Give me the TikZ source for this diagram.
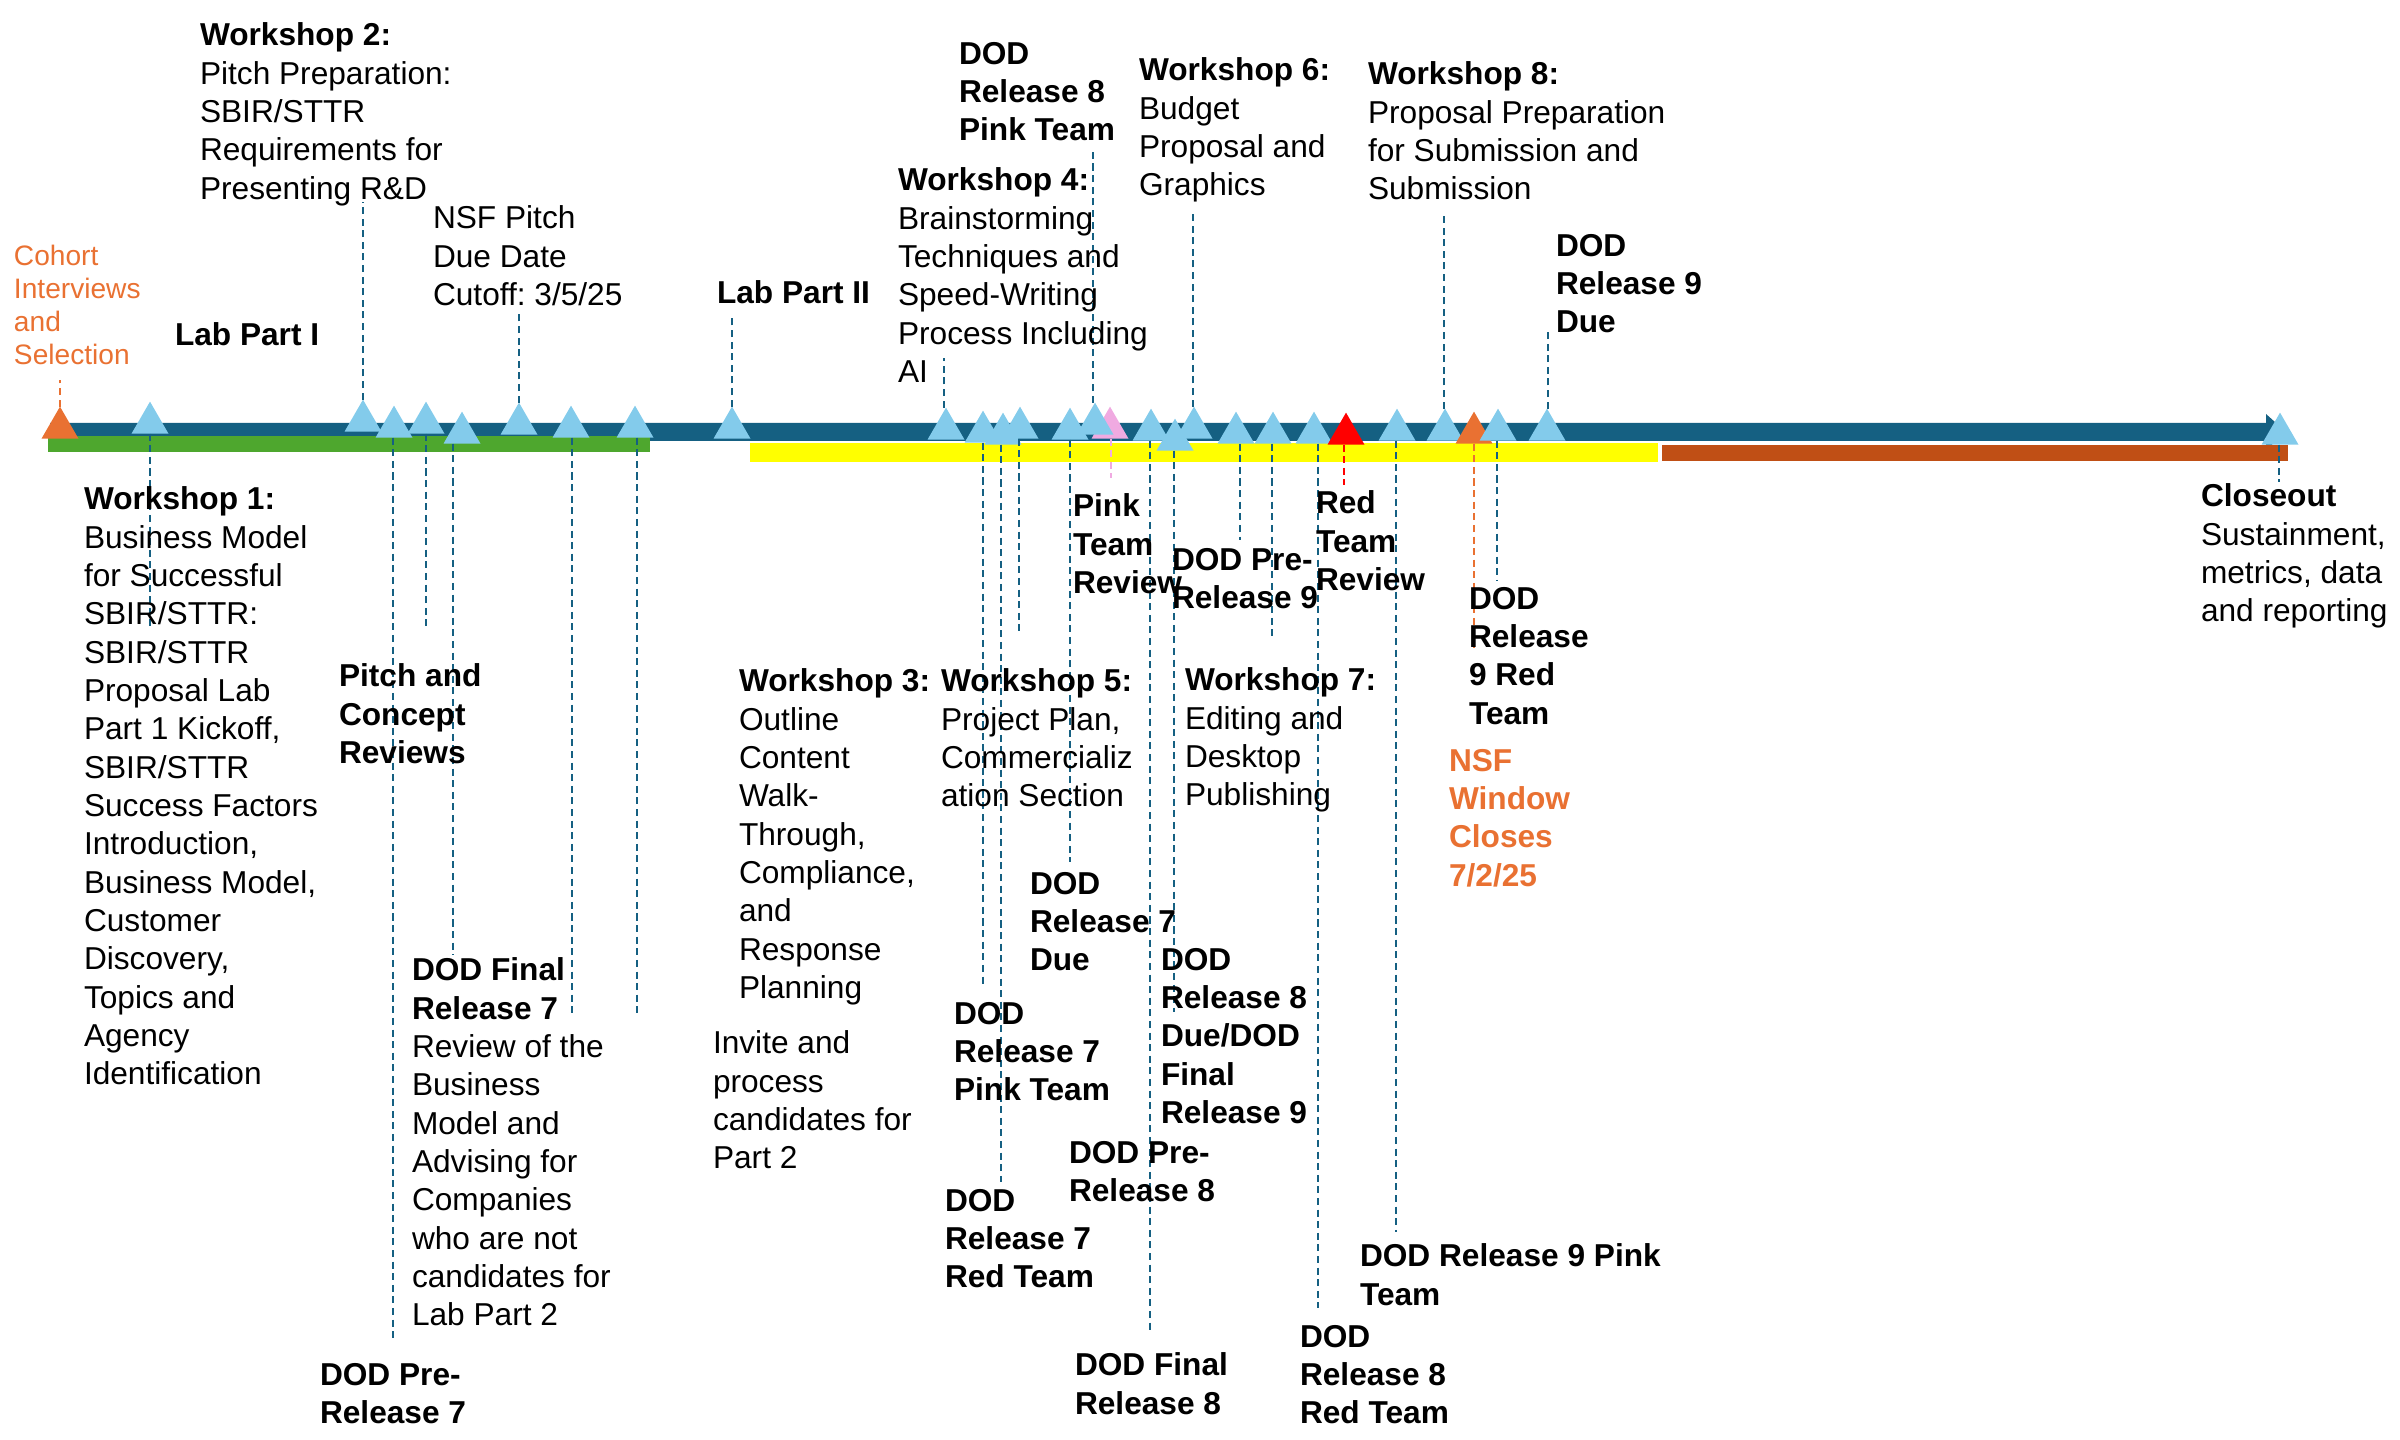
\documentclass[tikz,border=0pt]{standalone}
\usepackage{fontspec}
\setmainfont{Liberation Sans}
\usetikzlibrary{shapes.geometric}
\definecolor{BarTeal}{RGB}{21,96,130}
\definecolor{TriBlue}{RGB}{131,203,235}
\definecolor{PhaseGreen}{RGB}{78,167,46}
\definecolor{PhaseYellow}{RGB}{255,255,0}
\definecolor{PhaseRust}{RGB}{192,79,21}
\definecolor{AccentOrange}{RGB}{233,113,50}
\definecolor{PinkTri}{RGB}{240,170,225}
\tikzset{
  milestone/.style={regular polygon,regular polygon sides=3,minimum size=0.427cm,
    inner sep=0pt,outer sep=0pt,draw=none,fill=TriBlue},
  lead/.style={draw=BarTeal,line width=0.7pt,dash pattern=on 2pt off 1.3pt},
  olead/.style={lead,draw=AccentOrange},
  rlead/.style={lead,draw=red},
  plead/.style={lead,draw=PinkTri},
  txt/.style={anchor=north west,inner sep=0pt,outer sep=0pt,align=left,
    font=\fontsize{9}{10.9}\selectfont},
  btxt/.style={txt,font=\fontsize{9}{10.9}\selectfont\bfseries},
  otxt/.style={txt,text=AccentOrange,font=\fontsize{8}{9.4}\selectfont}
}
\begin{document}
\frenchspacing
\begin{tikzpicture}[x=0.01cm,y=-0.01cm]
  \useasboundingbox (0,0) rectangle (2400,1440);

  % phase bars
  \fill[BarTeal] (50,423) -- (2266,423) -- (2266,414) -- (2286,432) -- (2266,450)
    -- (2266,441) -- (50,441) -- cycle;
  \fill[PhaseGreen] (48,436) rectangle (650,452);
  \fill[PhaseYellow] (750,443) rectangle (1658,462);
  \fill[PhaseRust] (1662,445) rectangle (2288,461);

  % milestones
  \node[milestone,fill=AccentOrange] (cohort) at (60,428) {};
  \node[milestone] (ws1) at (150,423) {};
  \node[milestone] (ws2) at (363,421) {};
  \node[milestone] (pre7) at (394,427) {};
  \node[milestone] (pitch) at (426,423) {};
  \node[milestone] (fin7) at (462,433) {};
  \node[milestone] (nsf) at (519,424) {};
  \node[milestone] (wkA) at (571,427) {};
  \node[milestone] (wkB) at (635,427) {};
  \node[milestone] (lab2) at (732,428) {};
  \node[milestone] (ws4) at (946,429) {};
  \node[milestone] (pink7) at (983,432) {};
  \node[milestone] (red7) at (1003,434) {};
  \node[milestone] (ws5) at (1020,428) {};
  \node[milestone] (due7) at (1070,429) {};
  \node[milestone,fill=PinkTri] (pinkrev) at (1110,428) {};
  \node[milestone] (pink8) at (1095,424) {};
  \node[milestone] (fin8) at (1151,430) {};
  \node[milestone] (due8) at (1175,440) {};
  \node[milestone] (ws6) at (1194,428) {};
  \node[milestone] (pre9) at (1236,433) {};
  \node[milestone] (ws7) at (1273,433) {};
  \node[milestone] (red8) at (1314,433) {};
  \node[milestone,fill=red] (redrev) at (1346,434) {};
  \node[milestone] (pink9) at (1397,430) {};
  \node[milestone] (ws8) at (1445,430) {};
  \node[milestone,fill=AccentOrange] (nsfclose) at (1474,433) {};
  \node[milestone] (red9) at (1498,430) {};
  \node[milestone] (due9) at (1547,430) {};
  \node[milestone] (close) at (2280,434) {};

  % lead ends
  \coordinate (cohortE) at (60,380);
  \coordinate (ws1E) at (150,626);
  \coordinate (ws2E) at (363,202);
  \coordinate (pre7E) at (393,1340);
  \coordinate (pitchE) at (426,628);
  \coordinate (fin7E) at (453,955);
  \coordinate (nsfE) at (519,312);
  \coordinate (wkAE) at (572,1017);
  \coordinate (wkBE) at (637,1017);
  \coordinate (lab2E) at (732,318);
  \coordinate (ws4E) at (944,358);
  \coordinate (pink7E) at (983,985);
  \coordinate (red7E) at (1001,1182);
  \coordinate (ws5E) at (1019,632);
  \coordinate (due7E) at (1070,862);
  \coordinate (pinkrevE) at (1111,478);
  \coordinate (pink8E) at (1093,150);
  \coordinate (fin8E) at (1150,1332);
  \coordinate (due8E) at (1174,1012);
  \coordinate (ws6E) at (1193,210);
  \coordinate (pre9E) at (1240,540);
  \coordinate (ws7E) at (1272,637);
  \coordinate (red8E) at (1318,1308);
  \coordinate (redrevE) at (1344,485);
  \coordinate (pink9E) at (1396,1232);
  \coordinate (ws8E) at (1444,212);
  \coordinate (nsfcloseE) at (1474,651);
  \coordinate (red9E) at (1497,580);
  \coordinate (due9E) at (1548,330);
  \coordinate (closeE) at (2279,482);

  \draw[olead] (cohort.north) -- (cohortE);
  \draw[lead] (ws1.south) -- (ws1E);
  \draw[lead] (ws2.north) -- (ws2E);
  \draw[lead] (pre7.south -| pre7E) -- (pre7E);
  \draw[lead] (pitch.south) -- (pitchE);
  \draw[lead] (fin7.south -| fin7E) -- (fin7E);
  \draw[lead] (nsf.north) -- (nsfE);
  \draw[lead] (wkA.south -| wkAE) -- (wkAE);
  \draw[lead] (wkB.south -| wkBE) -- (wkBE);
  \draw[lead] (lab2.north) -- (lab2E);
  \draw[lead] (ws4.north -| ws4E) -- (ws4E);
  \draw[lead] (pink7.south) -- (pink7E);
  \draw[lead] (red7.south -| red7E) -- (red7E);
  \draw[lead] (ws5.south -| ws5E) -- (ws5E);
  \draw[lead] (due7.south) -- (due7E);
  \draw[plead] (pinkrev.south -| pinkrevE) -- (pinkrevE);
  \draw[lead] (pink8.north -| pink8E) -- (pink8E);
  \draw[lead] (fin8.south -| fin8E) -- (fin8E);
  \draw[lead] (due8.south -| due8E) -- (due8E);
  \draw[lead] (ws6.north -| ws6E) -- (ws6E);
  \draw[lead] (pre9.south -| pre9E) -- (pre9E);
  \draw[lead] (ws7.south -| ws7E) -- (ws7E);
  \draw[lead] (red8.south -| red8E) -- (red8E);
  \draw[rlead] (redrev.south -| redrevE) -- (redrevE);
  \draw[lead] (pink9.south -| pink9E) -- (pink9E);
  \draw[lead] (ws8.north -| ws8E) -- (ws8E);
  \draw[olead] (nsfclose.south) -- (nsfcloseE);
  \draw[lead] (red9.south -| red9E) -- (red9E);
  \draw[lead] (due9.north -| due9E) -- (due9E);
  \draw[lead] (close.south -| closeE) -- (closeE);

  % labels above the bar
  \node[otxt] (cohortL) at (14,245) {Cohort\\Interviews\\and\\Selection};
  \node[txt] (ws2L) at (200,23) {\textbf{Workshop 2:}\\Pitch Preparation:\\SBIR/STTR\\Requirements for\\Presenting R\&D};
  \node[txt] (nsfL) at (433,206) {NSF Pitch\\Due Date\\Cutoff: 3/5/25};
  \node[btxt] (lab1L) at (175,323) {Lab Part I};
  \node[btxt] (lab2L) at (717,281) {Lab Part II};
  \node[txt] (ws4L) at (898,168) {\textbf{Workshop 4:}\\Brainstorming\\Techniques and\\Speed-Writing\\Process Including\\AI};
  \node[btxt] (pink8L) at (959,42) {DOD\\Release 8\\Pink Team};
  \node[txt] (ws6L) at (1139,58) {\textbf{Workshop 6:}\\Budget\\Proposal and\\Graphics};
  \node[txt] (ws8L) at (1368,62) {\textbf{Workshop 8:}\\Proposal Preparation\\for Submission and\\Submission};
  \node[btxt] (due9L) at (1556,234) {DOD\\Release 9\\Due};

  % labels below the bar
  \node[txt] (ws1L) at (84,487) {\textbf{Workshop 1:}\\Business Model\\for Successful\\SBIR/STTR:\\SBIR/STTR\\Proposal Lab\\Part 1 Kickoff,\\SBIR/STTR\\Success Factors\\Introduction,\\Business Model,\\Customer\\Discovery,\\Topics and\\Agency\\Identification};
  \node[btxt] (pitchL) at (339,664) {Pitch and\\Concept\\Reviews};
  \node[txt] (fin7L) at (412,958) {\textbf{DOD Final}\\\textbf{Release 7}\\Review of the\\Business\\Model and\\Advising for\\Companies\\who are not\\candidates for\\Lab Part 2};
  \node[btxt] (pre7L) at (320,1363) {DOD Pre-\\Release 7};
  \node[txt] (ws3L) at (739,669) {\textbf{Workshop 3:}\\Outline\\Content\\Walk-\\Through,\\Compliance,\\and\\Response\\Planning};
  \node[txt] (inviteL) at (713,1031) {Invite and\\process\\candidates for\\Part 2};
  \node[txt] (ws5L) at (941,669) {\textbf{Workshop 5:}\\Project Plan,\\Commercializ\\ation Section};
  \node[btxt] (pinkrevL) at (1073,494) {Pink\\Team\\Review};
  \node[btxt] (pre9L) at (1172,548) {DOD Pre-\\Release 9};
  \node[btxt] (redrevL) at (1316,491) {Red\\Team\\Review};
  \node[txt] (ws7L) at (1185,668) {\textbf{Workshop 7:}\\Editing and\\Desktop\\Publishing};
  \node[btxt] (red9L) at (1469,587) {DOD\\Release\\9 Red\\Team};
  \node[btxt,text=AccentOrange] (nsfcloseL) at (1449,749) {NSF\\Window\\Closes\\7/2/25};
  \node[btxt] (due7L) at (1030,872) {DOD\\Release 7\\Due};
  \node[btxt] (due8L) at (1161,948) {DOD\\Release 8\\Due/DOD\\Final\\Release 9};
  \node[btxt] (pink7L) at (954,1002) {DOD\\Release 7\\Pink Team};
  \node[btxt] (pre8L) at (1069,1141) {DOD Pre-\\Release 8};
  \node[btxt] (red7L) at (945,1189) {DOD\\Release 7\\Red Team};
  \node[btxt] (fin8L) at (1075,1353) {DOD Final\\Release 8};
  \node[btxt] (pink9L) at (1360,1244) {DOD Release 9 Pink\\Team};
  \node[btxt] (red8L) at (1300,1325) {DOD\\Release 8\\Red Team};
  \node[txt] (closeL) at (2201,484) {\textbf{Closeout}\\Sustainment,\\metrics, data\\and reporting};
\end{tikzpicture}
\end{document}
